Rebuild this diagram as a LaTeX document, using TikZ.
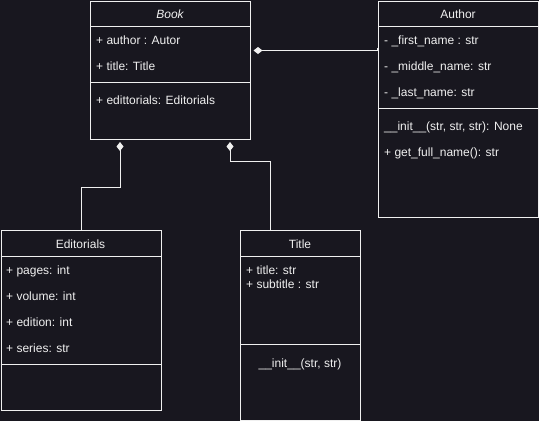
\documentclass[tikz,border=0pt]{standalone}
\usepackage{fontspec}
\setmainfont{Liberation Sans}
\usetikzlibrary{arrows.meta}
\definecolor{bg}{HTML}{18171F}
\definecolor{fg}{HTML}{F0F0F0}
\begin{document}
\begin{tikzpicture}[x=1pt,y=-1pt,font=\fontsize{12}{14}\selectfont,
  classbox/.style={draw=fg,line width=1pt,minimum width=160pt,inner sep=0pt,anchor=north west},
  sep/.style={draw=fg,line width=1pt},
  lbl/.style={text=fg,inner sep=0pt,anchor=west,text height=8.6pt,text depth=2.5pt},
  ctr/.style={text=fg,inner sep=0pt,anchor=center,text height=8.6pt,text depth=2.5pt},
  comp/.style={draw=fg,line width=1pt,{Diamond[length=9pt,width=7pt,fill=fg]}-,shorten <=2.5pt}]
\fill[bg] (0,0) rectangle (539,421);
\useasboundingbox (0,0) rectangle (539,421);
% boxes
\node[classbox,minimum height=138pt] (book) at (90,0.5) {};
\node[classbox,minimum height=216pt] (author) at (378,0.5) {};
\node[classbox,minimum height=180pt] (editorials) at (0.5,230) {};
\node[classbox,minimum width=120pt,minimum height=190pt] (title) at (240,230) {};
% separators
\draw[sep] ([yshift=-26pt]book.north west) -- ([yshift=-26pt]book.north east);
\draw[sep] ([yshift=-82pt]book.north west) -- ([yshift=-82pt]book.north east);
\draw[sep] ([yshift=-26pt]author.north west) -- ([yshift=-26pt]author.north east);
\draw[sep] ([yshift=-108pt]author.north west) -- ([yshift=-108pt]author.north east);
\draw[sep] ([yshift=-26pt]editorials.north west) -- ([yshift=-26pt]editorials.north east);
\draw[sep] ([yshift=-134pt]editorials.north west) -- ([yshift=-134pt]editorials.north east);
\draw[sep] ([yshift=-26pt]title.north west) -- ([yshift=-26pt]title.north east);
\draw[sep] ([yshift=-114pt]title.north west) -- ([yshift=-114pt]title.north east);
% Book texts
\node[ctr] (bookname) at (170,15) {\itshape Book};
\node[lbl] (b1) at (96,41) {+ author : Autor};
\node[lbl] (b2) at (96,67) {+ title: Title};
\node[lbl] (b3) at (96,101) {+ edittorials: Editorials};
% Author texts
\node[ctr] (authorname) at (458,15) {Author};
\node[lbl] (a1) at (384,41) {- \_first\_name : str};
\node[lbl] (a2) at (384,67) {- \_middle\_name: str};
\node[lbl] (a3) at (384,93) {- \_last\_name: str};
\node[lbl] (a4) at (384,127) {\_\_init\_\_(str, str, str): None};
\node[lbl] (a5) at (384,153) {+ get\_full\_name(): str};
% Editorials texts
\node[ctr] (edname) at (80.5,245) {Editorials};
\node[lbl] (e1) at (6,271) {+ pages: int};
\node[lbl] (e2) at (6,297) {+ volume: int};
\node[lbl] (e3) at (6,323) {+ edition: int};
\node[lbl] (e4) at (6,349) {+ series: str};
% Title texts
\node[ctr] (titlename) at (300,245) {Title};
\node[lbl] (t1) at (246,271) {+ title: str};
\node[lbl] (t2) at (246,285) {+ subtitle : str};
\node[ctr] (t3) at (300,364) {\_\_init\_\_(str, str)};
% connectors
\draw[comp] ([xshift=30pt]book.south west) -- ++(0,47.5) -| (editorials.north);
\draw[comp] ([xshift=140pt]book.south west) -- ++(0,22) -| ([xshift=30pt]title.north west);
\draw[comp] ([yshift=-50pt]book.north east) -- ++(126,0) |- ([yshift=-47.5pt]author.north west);
\end{tikzpicture}
\end{document}
